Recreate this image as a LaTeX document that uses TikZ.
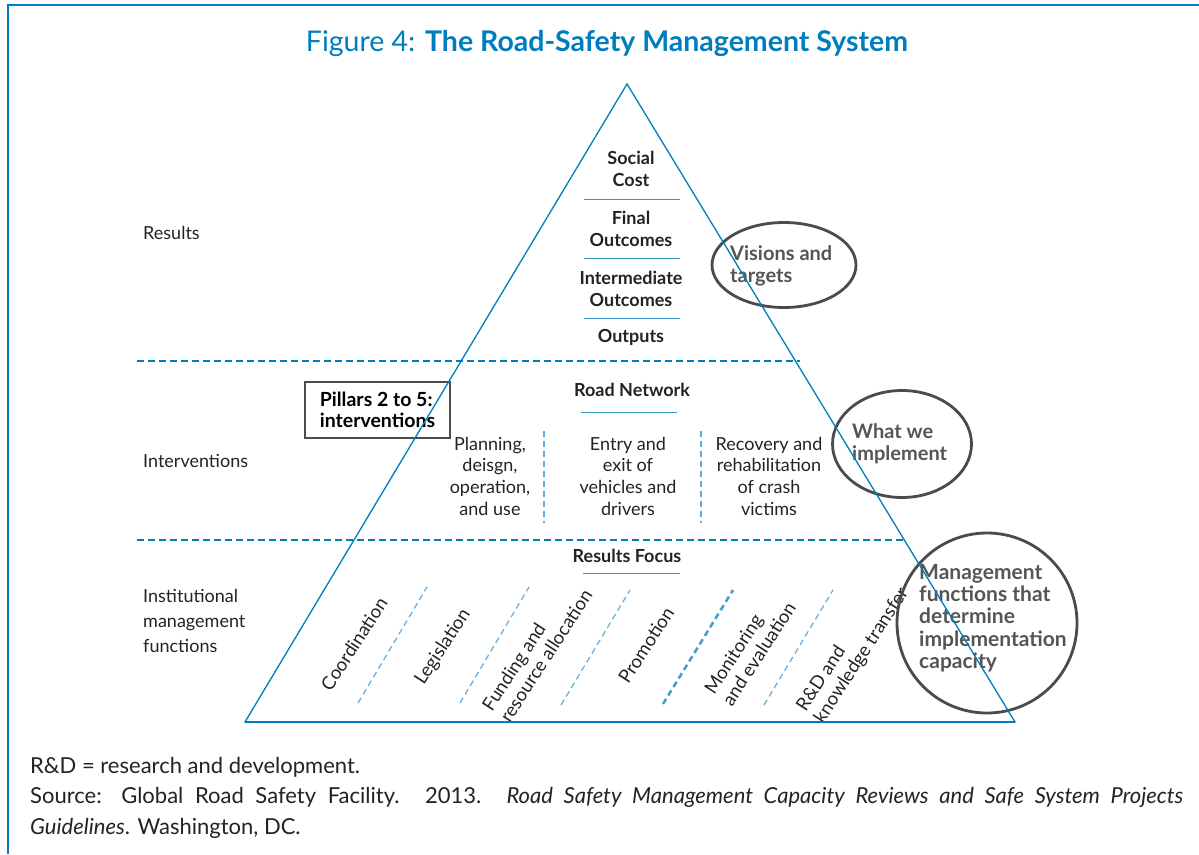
\documentclass[tikz,border=0pt]{standalone}
\usepackage{fontspec}
\setmainfont{Lato}
\usetikzlibrary{shapes.geometric}
\definecolor{adbblue}{RGB}{0,125,190}
\definecolor{lightblue}{RGB}{95,172,222}
\definecolor{ringgray}{RGB}{75,75,75}
\definecolor{txtdark}{RGB}{35,35,35}
\definecolor{txtgray}{RGB}{85,85,85}
\begin{document}
\begin{tikzpicture}[x=1pt,y=-1pt,
  sidelbl/.style={font=\fontsize{18}{25}\selectfont, text=txtdark, align=left, anchor=west, inner sep=0pt},
  boldlbl/.style={font=\fontsize{18}{21.5}\selectfont\bfseries, text=txtdark, align=center, inner sep=0pt},
  collbl/.style={font=\fontsize{18}{21.7}\selectfont, text=txtdark, align=center, inner sep=0pt},
  rotlbl/.style={font=\fontsize{18.5}{21}\selectfont, text=txtdark, align=left, rotate=57, inner sep=0pt},
  ringtxt/.style={font=\fontsize{20}{22}\selectfont\bfseries, text=txtgray, align=left, anchor=west, inner sep=0pt},
  ring/.style={draw=ringgray, line width=2.8pt, ellipse, inner sep=0pt},
  sepline/.style={draw=adbblue!80, line width=1pt},
  secdash/.style={draw=adbblue, line width=2.5pt, dash pattern=on 7pt off 4pt},
  coldash/.style={draw=lightblue, line width=1.2pt, dash pattern=on 6pt off 4pt},
  footer/.style={font=\fontsize{22}{31}\selectfont, text=txtdark, anchor=base west, inner sep=0pt},
]
\useasboundingbox (0,0) rectangle (1199,854);
\fill[white] (0,0) rectangle (1199,854);
% frame
\draw[adbblue, line width=1.2pt] (8,854) -- (8,5) -- (1199,5);
% title
\node[font=\fontsize{28.5}{32}\selectfont, text=adbblue, inner sep=0pt] (title) at (607,44)
  {Figure 4: \textbf{The Road-Safety Management System}};

% section separators
\draw[secdash] (137,361) -- (800,361);
\draw[secdash] (137,540) -- (905,540);

% left labels
\node[sidelbl] (lres) at (143,233) {Results};
\node[sidelbl] (lint) at (143,461) {Interventions};
\node[sidelbl] (linst) at (143,621) {Institutional\\management\\functions};

% results section
\node[boldlbl] (social) at (631,169) {Social\\Cost};
\draw[sepline] (584,199) -- (680,199);
\node[boldlbl] (final) at (631,229) {Final\\Outcomes};
\draw[sepline] (584,258) -- (680,258);
\node[boldlbl] (inter) at (631,289) {Intermediate\\Outcomes};
\draw[sepline] (584,318) -- (680,318);
\node[boldlbl] (outputs) at (631,337) {Outputs};

% interventions section
\node[boldlbl] (road) at (632,390) {Road Network};
\draw[sepline] (581,412) -- (677,412);
\node[collbl] (plan) at (490,476) {Planning,\\deisgn,\\operation,\\and use};
\node[collbl] (entry) at (628,476) {Entry and\\exit of\\vehicles and\\drivers};
\node[collbl] (recov) at (769,476) {Recovery and\\rehabilitation\\of crash\\victims};
\draw[coldash] (544,431) -- (544,523);
\draw[coldash] (701,431) -- (701,523);

\node[draw=ringgray, line width=1.6pt, minimum width=145pt, minimum height=56pt,
      font=\fontsize{19.5}{21}\selectfont\bfseries, text=black, align=left, inner sep=0pt] (pillars) at (377.5,410)
  {Pillars 2 to 5:\\interventions};

% institutional section
\node[boldlbl] (focus) at (627,556) {Results Focus};
\draw[sepline] (583,573) -- (680,573);
\node[rotlbl] (coord) at (354,644) {Coordination};
\node[rotlbl] (legis) at (443,647) {Legislation};
\node[rotlbl] (fund) at (537,650) {Funding and\\resource allocation};
\node[rotlbl] (promo) at (646,645) {Promotion};
\node[rotlbl] (monit) at (750,648) {Monitoring\\and evaluation};
\node[rotlbl] (rnd) at (853,650) {R\&D and\\knowledge transfer};
\draw[coldash] (358,703) -- (427,587);
\draw[coldash] (460,703) -- (529,587);
\draw[coldash] (561,705) -- (630,590);
\draw[coldash, draw=adbblue!75, line width=2.5pt] (663,704) -- (733,590);
\draw[coldash] (764,705) -- (833,590);

% rings
\node[ring, minimum width=144pt, minimum height=85pt] (visring) at (784,265) {};
\node[ringtxt] (vistxt) at (730,266) {Visions and\\targets};
\node[ring, minimum width=139pt, minimum height=107pt] (impring) at (902,444) {};
\node[ringtxt] (imptxt) at (852,444) {What we\\implement};
\node[ring, minimum width=180pt, minimum height=180pt] (mgmtring) at (987,623) {};
\node[ringtxt, font=\fontsize{21}{22.3}\selectfont\bfseries] (mgmttxt) at (919,618) {Management\\functions that\\determine\\implementation\\capacity};

% pyramid
\coordinate (apex) at (627,84);
\coordinate (bl) at (245,722);
\coordinate (br) at (1015,722);
\draw[adbblue, line width=1.3pt, line join=miter] (apex) -- (br) -- (bl) -- cycle;
\draw[adbblue, line width=2pt] (bl) -- (br);

% footer
\node[footer] (abbr) at (30,773) {R\&D = research and development.};
\node[footer, text width=1153pt, align=justify, anchor=north west] (src) at (30,787)
  {Source: Global Road Safety Facility. 2013. \textit{Road Safety Management Capacity Reviews and Safe System Projects}\linebreak \textit{Guidelines}. Washington, DC.};
\end{tikzpicture}
\end{document}
